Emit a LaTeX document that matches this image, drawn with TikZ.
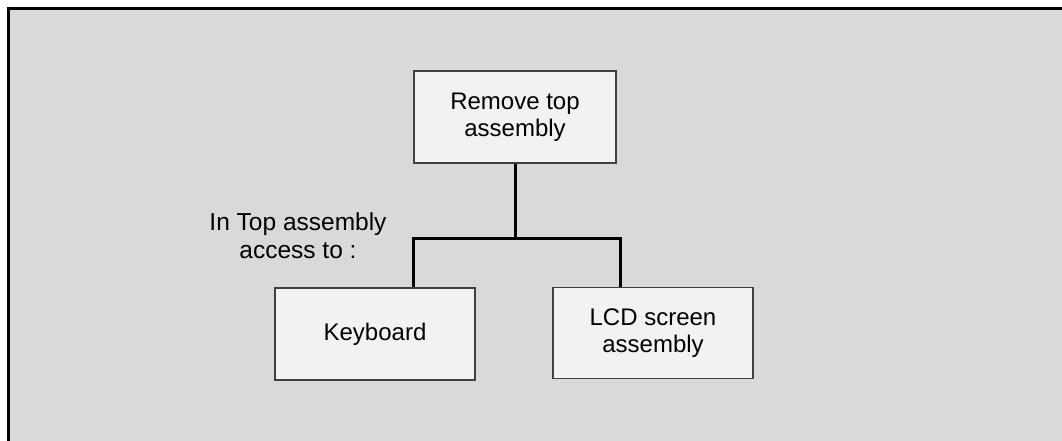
\documentclass[tikz,border=0pt]{standalone}
\usepackage{fontspec}
\setmainfont{Liberation Sans}
\definecolor{bggray}{HTML}{D9D9D9}
\definecolor{boxfill}{HTML}{F2F2F2}
\definecolor{boxline}{HTML}{404040}
\begin{document}
\begin{tikzpicture}[x=1pt,y=-1pt,
  stepbox/.style={draw=boxline, line width=1.4pt, fill=boxfill, minimum width=202pt, minimum height=92pt, align=center, inner sep=0pt,
    font=\fontsize{24}{27.5}\selectfont},
  lbl/.style={align=center, inner sep=0pt, font=\fontsize{24.5}{28}\selectfont},
  conn/.style={line width=3pt, black}]
\useasboundingbox (0,0) rectangle (1062,441);
\fill[bggray] (8,9) rectangle (1062,441);
\draw[line width=3pt] (8,441) -- (8,9) -- (1062,9);
\node[stepbox] (top) at (515,117) {Remove top\\assembly};
\node[stepbox, minimum width=200pt] (kb) at (375,334) {Keyboard};
\node[stepbox, minimum width=200pt, minimum height=91pt] (lcd) at (653,333) {LCD screen\\assembly};
\node[lbl] (acc) at (298,236) {In Top assembly\\access to :};
\coordinate (j) at (515,238);
\coordinate (jl) at (413,238);
\coordinate (jr) at (620,238);
\draw[conn] (top.south) -- (j);
\draw[conn, line cap=rect] (jl) -- (jr);
\draw[conn] (jl) -- (jl |- kb.north);
\draw[conn] (jr) -- (jr |- lcd.north);
\end{tikzpicture}
\end{document}
